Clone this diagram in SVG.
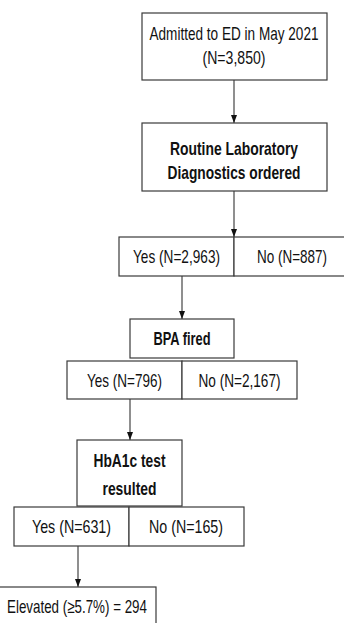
<svg xmlns="http://www.w3.org/2000/svg" width="344" height="623" viewBox="0 0 344 623">
<style>
.box{fill:#fff;stroke:#3a3a3a;stroke-width:1.2}
.t{font-family:"Liberation Sans Narrow","Liberation Sans",Arial,sans-serif;font-size:18.5px;fill:#111;text-anchor:middle}
.b{font-weight:bold}
.c{stroke:#333;stroke-width:1.1;fill:none;marker-end:url(#ah)}
</style>
<defs>
<marker id="ah" viewBox="0 0 8 6" refX="8" refY="3" markerWidth="8" markerHeight="6" markerUnits="userSpaceOnUse" orient="auto">
<path d="M0,0 L8,3 L0,6 Z" fill="#111"/>
</marker>
</defs>
<rect width="344" height="623" fill="#fff"/>
<g id="connectors">
<line class="c" x1="234" y1="80" x2="234" y2="123"/>
<line class="c" x1="234" y1="191" x2="234" y2="237"/>
<line class="c" x1="182" y1="276" x2="182" y2="319"/>
<line class="c" x1="130" y1="399" x2="130" y2="440"/>
<line class="c" x1="78" y1="546" x2="78" y2="587"/>
</g>
<g id="admitted">
<rect class="box" x="142" y="13" width="185" height="67"/>
<text class="t" x="234" y="39.5" textLength="169" lengthAdjust="spacingAndGlyphs">Admitted to ED in May 2021</text>
<text class="t" x="234" y="64" textLength="63" lengthAdjust="spacingAndGlyphs">(N=3,850)</text>
</g>
<g id="routine">
<rect class="box" x="142" y="123" width="185" height="68"/>
<text class="t b" x="234" y="154.5" textLength="128" lengthAdjust="spacingAndGlyphs">Routine Laboratory</text>
<text class="t b" x="234" y="178.5" textLength="133" lengthAdjust="spacingAndGlyphs">Diagnostics ordered</text>
</g>
<g id="routine-yes">
<rect class="box" x="119" y="237" width="115" height="39"/>
<text class="t" x="176.5" y="263" textLength="87" lengthAdjust="spacingAndGlyphs">Yes (N=2,963)</text>
</g>
<g id="routine-no">
<rect class="box" x="234" y="237" width="116" height="39"/>
<text class="t" x="292" y="263" textLength="70" lengthAdjust="spacingAndGlyphs">No (N=887)</text>
</g>
<g id="bpa">
<rect class="box" x="130" y="319" width="104" height="39"/>
<text class="t b" x="182" y="345" textLength="57" lengthAdjust="spacingAndGlyphs">BPA fired</text>
</g>
<g id="bpa-yes">
<rect class="box" x="67" y="361" width="115" height="38"/>
<text class="t" x="124.5" y="386.5" textLength="75" lengthAdjust="spacingAndGlyphs">Yes (N=796)</text>
</g>
<g id="bpa-no">
<rect class="box" x="182" y="361" width="115" height="38"/>
<text class="t" x="239.5" y="386.5" textLength="82" lengthAdjust="spacingAndGlyphs">No (N=2,167)</text>
</g>
<g id="hba1c">
<rect class="box" x="77" y="440" width="105" height="66"/>
<text class="t b" x="129.5" y="466.5" textLength="72" lengthAdjust="spacingAndGlyphs">HbA1c test</text>
<text class="t b" x="129.5" y="495" textLength="54" lengthAdjust="spacingAndGlyphs">resulted</text>
</g>
<g id="hba1c-yes">
<rect class="box" x="14" y="507" width="115" height="39"/>
<text class="t" x="71.5" y="533" textLength="79" lengthAdjust="spacingAndGlyphs">Yes (N=631)</text>
</g>
<g id="hba1c-no">
<rect class="box" x="129" y="507" width="115" height="39"/>
<text class="t" x="186" y="533" textLength="74" lengthAdjust="spacingAndGlyphs">No (N=165)</text>
</g>
<g id="elevated">
<rect class="box" x="-2" y="587" width="158" height="45"/>
<text class="t" x="77" y="612.5" textLength="140" lengthAdjust="spacingAndGlyphs">Elevated (≥5.7%) = 294</text>
</g>
</svg>
